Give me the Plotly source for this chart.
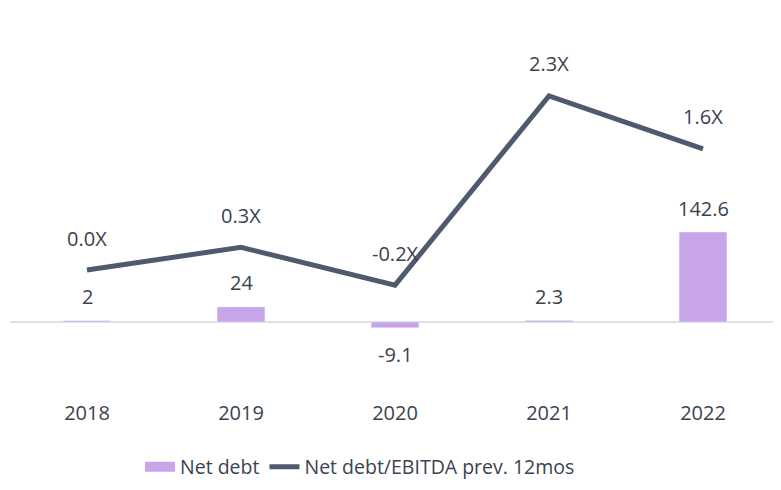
import plotly.graph_objects as go

# data
years = ["2018", "2019", "2020", "2021", "2022"]
net_debt = [2, 24, -9.1, 2.3, 142.6]
net_debt_labels = ["2", "24", "-9.1", "2.3", "142.6"]
ratio = [0.0, 0.3, -0.2, 2.3, 1.6]
ratio_labels = ["0.0X", "0.3X", "-0.2X", "2.3X", "1.6X"]

txt_color = "#3a4350"
bar_color = "#c8a5e8"
font_family = "'Open Sans', sans-serif"

fig = go.Figure()

fig.add_trace(go.Bar(
    x=years, y=net_debt, name="Net debt",
    marker=dict(color=bar_color),
    hoverinfo="skip", showlegend=False,
))
# wide swatch for the bar legend entry
fig.add_trace(go.Scatter(
    x=[years[0]], y=[None], name="Net debt", mode="lines",
    line=dict(color=bar_color, width=13), hoverinfo="skip",
))

fig.add_trace(go.Scatter(
    x=years, y=ratio, name="Net debt/EBITDA prev. 12mos",
    mode="lines", line=dict(color="#4f5a6e", width=5),
    yaxis="y2", hoverinfo="skip",
))

# value labels (category axis -> annotation x given as category index)
annots = []
for i, (v, t) in enumerate(zip(net_debt, net_debt_labels)):
    annots.append(dict(x=i, y=v, xref="x", yref="y", text=t, showarrow=False,
                       yanchor="middle", yshift=24 if v >= 0 else -27,
                       font=dict(size=20, color=txt_color)))
for i, (v, t) in enumerate(zip(ratio, ratio_labels)):
    annots.append(dict(x=i, y=v, xref="x", yref="y2", text=t, showarrow=False,
                       yanchor="middle", yshift=32,
                       font=dict(size=20, color=txt_color)))

fig.update_layout(
    width=781, height=490,
    margin=dict(l=2, r=9, t=2, b=99),
    plot_bgcolor="white", paper_bgcolor="white",
    font=dict(family=font_family, size=20, color=txt_color),
    bargap=0.69,
    showlegend=True,
    legend=dict(orientation="h", xref="container", yref="container",
                x=0.4507, xanchor="center", y=0.0633, yanchor="middle",
                font=dict(size=19.5, color=txt_color)),
    xaxis=dict(type="category", categoryorder="array", categoryarray=years,
               range=[-0.5, 4.5], autorange=False,
               showgrid=False, showline=False, ticks="", tickfont=dict(size=20)),
    yaxis=dict(range=[-122.0, 494.5], showticklabels=False, showgrid=False,
               zeroline=True, zerolinecolor="#dde0e5", zerolinewidth=2),
    yaxis2=dict(range=[-1.704, 3.435], overlaying="y", side="right",
                showticklabels=False, showgrid=False, zeroline=False),
    annotations=annots,
)

fig.write_html("out.html")
